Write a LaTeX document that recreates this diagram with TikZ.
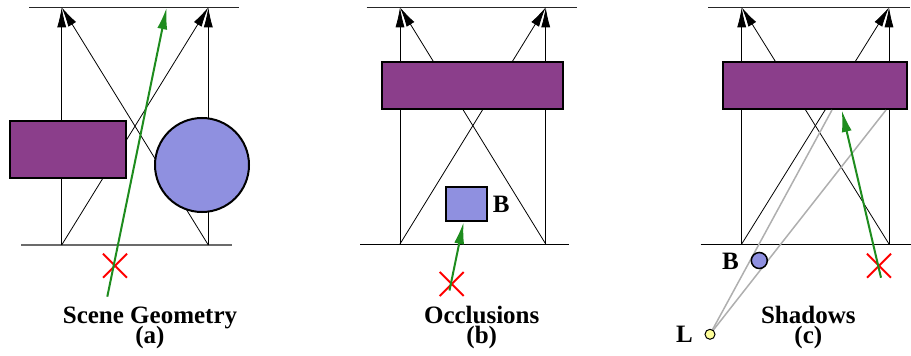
\documentclass[tikz,border=0pt]{standalone}
\usepackage{fontspec}
\setmainfont{Liberation Serif}
\usetikzlibrary{arrows.meta,shapes.misc}
\definecolor{objpurple}{RGB}{139,62,139}
\definecolor{objblue}{RGB}{143,144,224}
\definecolor{raygreen}{RGB}{30,140,30}
\definecolor{lightyel}{RGB}{255,255,153}
\definecolor{shadowgray}{RGB}{175,175,175}
\tikzset{
  rayline/.style={draw=black, line width=0.8pt, -{Latex[length=20pt,width=9pt]}},
  topline/.style={draw=black!85, line width=1pt},
  groundline/.style={draw=black, line width=1pt},
  groundgray/.style={draw=black!58, line width=1.8pt},
  objrect/.style={draw=black, line width=2pt, inner sep=0pt, fill=objpurple},
  objball/.style={draw=black, line width=2pt, inner sep=0pt, circle, fill=objblue},
  greenray/.style={draw=raygreen, line width=2pt, -{Latex[length=22pt,width=10pt]}},
  xmark/.style={draw=red, cross out, line width=2pt, minimum size=22pt, inner sep=0pt},
  shadowline/.style={draw=shadowgray, line width=1.5pt},
  lbl/.style={font=\fontsize{25}{25}\selectfont\bfseries, anchor=base, inner sep=0pt},
  caption/.style={font=\fontsize{25}{25}\selectfont\bfseries, align=center, anchor=south, inner sep=0pt},
}
\begin{document}
\begin{tikzpicture}[x=1pt,y=-1pt]
\useasboundingbox (0,0) rectangle (911,356);
% ---------------- panel (a)
\coordinate (a-tl) at (29,7.3);  \coordinate (a-tr) at (239,7.3);
\coordinate (a-bl) at (21,245);  \coordinate (a-br) at (232,245);
\coordinate (a-p) at (61.7,245); \coordinate (a-q) at (208.3,245);
\coordinate (a-P) at (61.7,7.3); \coordinate (a-Q) at (208.3,7.3);
\draw[topline] (a-tl) -- (a-tr);
\draw[groundgray] (a-bl) -- (a-br);
\draw[rayline] (a-p) -- (a-P);
\draw[rayline] (a-q) -- (a-Q);
\draw[rayline] (a-p) -- (a-Q);
\draw[rayline] (a-q) -- (a-P);
\node[objrect, minimum width=116pt, minimum height=57pt] (a-rect) at (68,149.5) {};
\node[objball, minimum size=94pt] (a-ball) at (202,165) {};
\node[xmark] (a-x) at (115,265.7) {};
\coordinate (a-gs) at (107.3,296.7); \coordinate (a-ge) at (166.7,7.3);
\draw[greenray] (a-gs) -- (a-ge);
\node[caption] (a-t) at (150,349.5) {Scene Geometry\\[-5pt](a)};
% ---------------- panel (b)
\coordinate (b-tl) at (366.7,7.3); \coordinate (b-tr) at (576.7,7.3);
\coordinate (b-bl) at (360,244);   \coordinate (b-br) at (569,244);
\coordinate (b-p) at (400,244);    \coordinate (b-q) at (545.7,244);
\coordinate (b-P) at (400,7.3);    \coordinate (b-Q) at (545.7,7.3);
\draw[topline] (b-tl) -- (b-tr);
\draw[groundline] (b-bl) -- (b-br);
\draw[rayline] (b-p) -- (b-P);
\draw[rayline] (b-q) -- (b-Q);
\draw[rayline] (b-p) -- (b-Q);
\draw[rayline] (b-q) -- (b-P);
\node[objrect, minimum width=181.6pt, minimum height=47.6pt] (b-rect) at (472.5,85.5) {};
\node[objrect, fill=objblue, minimum width=41.6pt, minimum height=34.3pt] (b-box) at (466.5,203.9) {};
\node[lbl, anchor=base west] (b-B) at (492.7,212) {B};
\node[xmark] (b-x) at (451.7,284) {};
\coordinate (b-gs) at (449.5,290.5);
\draw[greenray] (b-gs) -- (b-box.south -| 463.6,0);
\node[caption] (b-t) at (481.7,349.5) {Occlusions\\[-5pt](b)};
% ---------------- panel (c)
\coordinate (c-tl) at (708.3,7.3); \coordinate (c-tr) at (910,7.3);
\coordinate (c-bl) at (700.7,244); \coordinate (c-br) at (911,244);
\coordinate (c-p) at (741.7,244);  \coordinate (c-q) at (889,244);
\coordinate (c-P) at (741.7,7.3);  \coordinate (c-Q) at (889,7.3);
\draw[topline] (c-tl) -- (c-tr);
\draw[groundline] (c-bl) -- (c-br);
\draw[rayline] (c-p) -- (c-P);
\draw[rayline] (c-q) -- (c-Q);
\draw[rayline] (c-p) -- (c-Q);
\draw[rayline] (c-q) -- (c-P);
\node[objrect, minimum width=184pt, minimum height=47.6pt] (c-rect) at (814.7,85.5) {};
\node[circle, inner sep=0pt, minimum size=10pt] (c-L) at (710,334.3) {};
\coordinate (c-s1) at (832,110); \coordinate (c-s2) at (886,110);
\draw[shadowline] (c-L.center) -- (c-s1);
\draw[shadowline] (c-L.center) -- (c-s2);
\node[circle, draw=black, line width=1pt, fill=lightyel, inner sep=0pt, minimum size=10pt] at (c-L) {};
\node[objball, line width=1.5pt, minimum size=16pt] (c-ball) at (759.3,260.5) {};
\node[lbl, anchor=base east] (c-B) at (739,269) {B};
\node[lbl, anchor=base east] (c-Lt) at (693,342) {L};
\node[xmark] (c-x) at (879,265.7) {};
\coordinate (c-gs) at (881,277.7); \coordinate (c-ge) at (841.7,110);
\draw[greenray] (c-gs) -- (c-ge);
\node[caption] (c-t) at (808.3,349.5) {Shadows\\[-5pt](c)};
\end{tikzpicture}
\end{document}
